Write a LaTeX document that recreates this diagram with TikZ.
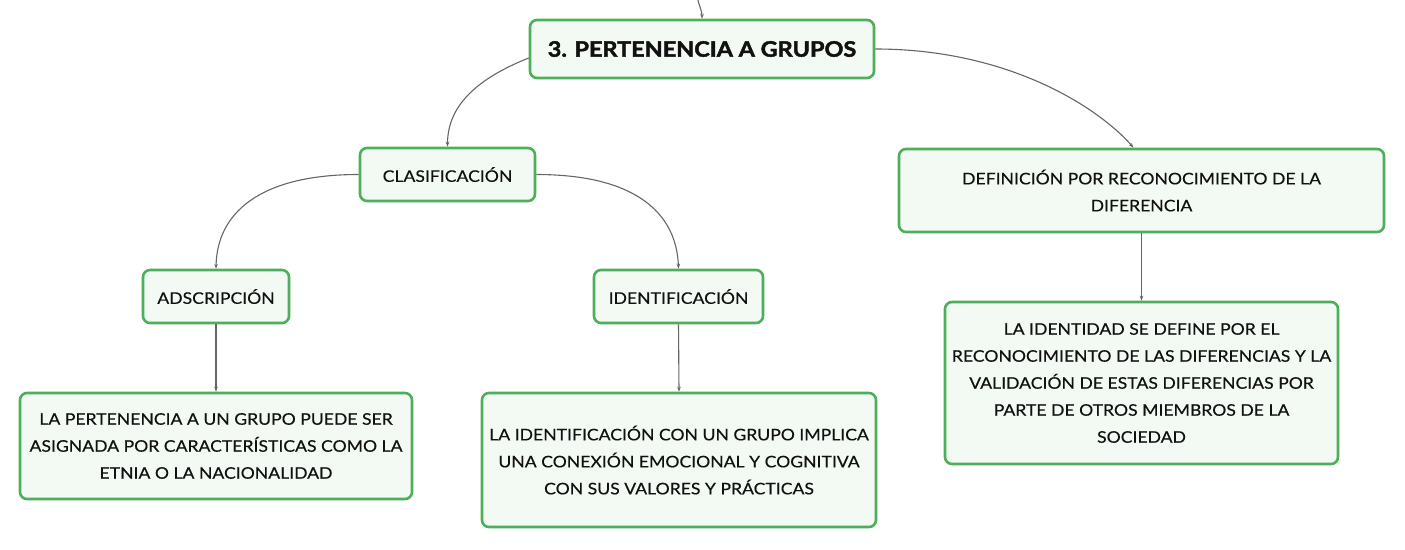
\documentclass[tikz,border=0pt]{standalone}
\usepackage{fontspec}
\setmainfont{Lato}[FakeStretch=1.1, FakeBold=0.35, BoldFeatures={FakeBold=2}]
\usetikzlibrary{arrows.meta}
\definecolor{boxgreen}{HTML}{4DAF5A}
\definecolor{boxfill}{HTML}{F3FAF4}
\definecolor{conngray}{HTML}{666666}
\definecolor{txt}{HTML}{111111}
\tikzset{
  mbox/.style={draw=boxgreen, line width=2.6pt, fill=boxfill, rounded corners=7pt,
    inner sep=0pt, align=center, text=txt, font=\fontsize{16}{27}\selectfont},
  titlebox/.style={mbox, font=\fontsize{21.3}{24}\selectfont\bfseries},
  conn/.style={draw=conngray, line width=1.1pt, -{Stealth[length=5pt,width=3.6pt]}}
}
\begin{document}
\begin{tikzpicture}[x=1pt,y=-1pt]
\useasboundingbox (0,0) rectangle (1405,549);
\fill[white] (0,0) rectangle (1405,549);

\node[titlebox, minimum width=344pt, minimum height=58pt] (title) at (702,49) {3. PERTENENCIA A GRUPOS};
\node[mbox, minimum width=175pt, minimum height=53pt] (clas) at (447.5,174.5) {CLASIFICACIÓN};
\node[mbox, minimum width=485pt, minimum height=83pt] (defin) at (1141.5,190.5) {DEFINICIÓN POR RECONOCIMIENTO DE LA\\DIFERENCIA};
\node[mbox, minimum width=146pt, minimum height=53pt] (adsc) at (216,296.5) {ADSCRIPCIÓN};
\node[mbox, minimum width=169pt, minimum height=53pt] (ident) at (678.5,296.5) {IDENTIFICACIÓN};
\node[mbox, minimum width=392pt, minimum height=106pt] (pert) at (216,446) {LA PERTENENCIA A UN GRUPO PUEDE SER\\ASIGNADA POR CARACTERÍSTICAS COMO LA\\ETNIA O LA NACIONALIDAD};
\node[mbox, minimum width=394pt, minimum height=134pt] (idtx) at (679,460) {LA IDENTIFICACIÓN CON UN GRUPO IMPLICA\\UNA CONEXIÓN EMOCIONAL Y COGNITIVA\\CON SUS VALORES Y PRÁCTICAS};
\node[mbox, minimum width=393pt, minimum height=162pt] (idad) at (1141.5,383) {LA IDENTIDAD SE DEFINE POR EL\\RECONOCIMIENTO DE LAS DIFERENCIAS Y LA\\VALIDACIÓN DE ESTAS DIFERENCIAS POR\\PARTE DE OTROS MIEMBROS DE LA\\SOCIEDAD};

\coordinate (topc) at (697,-4);
\draw[conn] (topc) .. controls +(2,10) and +(0,-8) .. (title.north);
\draw[conn] ([yshift=-9pt]title.west) .. controls +(-45,18) and +(0,-45) .. (clas.north);
\draw[conn] (title.east) .. controls +(136,0) and +(-33,-38) .. ([xshift=-8pt]defin.north);
\draw[conn] (clas.west) .. controls +(-100,0) and +(1,-55) .. (adsc.north);
\draw[conn] (clas.east) .. controls +(100,0) and +(-2,-55) .. (ident.north);
\draw[conn] (adsc.south) -- (pert.north);
\draw[conn] (ident.south) -- (idtx.north);
\draw[conn] (defin.south) -- (idad.north);
\end{tikzpicture}
\end{document}
